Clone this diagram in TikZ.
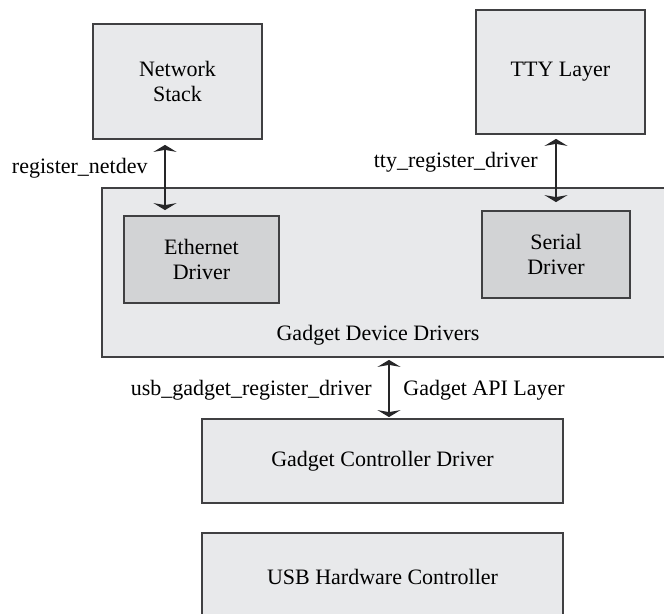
\documentclass[tikz,border=0pt]{standalone}
\usepackage{fontspec}
\setmainfont{Liberation Serif}
\usetikzlibrary{arrows.meta}
\definecolor{boxgray}{RGB}{232,233,235}
\definecolor{drvgray}{RGB}{210,211,213}
\definecolor{edgegray}{RGB}{64,64,66}
\definecolor{arrowgray}{RGB}{38,38,40}
\begin{document}
\begin{tikzpicture}[x = 0.5pt, y = -0.5pt,
		font = \fontsize{11}{12.5}\selectfont,
		layer/.style = {draw = edgegray, line width = 0.9pt, fill = boxgray, inner sep = 0pt, align = center},
		driver/.style = {layer, fill = drvgray},
		tag/.style = {inner sep = 0pt},
		link/.style = {draw = arrowgray, line width = 1.4pt, {Stealth[length = 3.5pt, width = 11.5pt, inset = 1pt]}-{Stealth[length = 3.5pt, width = 11.5pt, inset = 1pt]}}]
		\clip (0,0) rectangle (664,614);
		\node [layer, minimum width = 84.5pt, minimum height = 57.5pt] (net) at (177.5,81.5) {Network\\Stack};
		\node [layer, minimum width = 84.5pt, minimum height = 62pt] (tty) at (560.5,72) {TTY Layer};
		\node [layer, minimum width = 294pt, minimum height = 84.5pt] (gdd) at (396,272.5) {};
		\node [driver, minimum width = 77.5pt, minimum height = 43.5pt] (eth) at (201.5,259.5) {Ethernet\\Driver};
		\node [driver, minimum width = 74pt, minimum height = 43.5pt] (ser) at (556,254.5) {Serial\\Driver};
		\node [tag] (gddtext) at (378,335) {Gadget Device Drivers};
		\node [layer, minimum width = 180.5pt, minimum height = 42pt] (gcd) at (382.5,461) {Gadget Controller Driver};
		\node [layer, minimum width = 180.5pt, minimum height = 44pt] (usb) at (382.5,577) {USB Hardware Controller};
		\coordinate (a1) at (165,0);
		\coordinate (a3) at (389,0);
		\draw [link, shorten < = 2.5pt, shorten > = 2.5pt] (net.south -| a1) -- (eth.north -| a1);
		\draw [link, shorten < = 2pt, shorten > = 4pt] (tty.south -| ser.north) -- (ser.north);
		\draw [link, shorten < = 1pt, shorten > = 0.5pt] (gdd.south -| a3) -- (gcd.north -| a3);
		\node [tag, anchor = east] (lnet) at (148,168) {register\_netdev};
		\node [tag, anchor = east] (ltty) at (538,162) {tty\_register\_driver};
		\node [tag, anchor = east] (lusb) at (372,390) {usb\_gadget\_register\_driver};
		\node [tag, anchor = west] (lapi) at (403,390) {Gadget API Layer};
	\end{tikzpicture}
\end{document}
